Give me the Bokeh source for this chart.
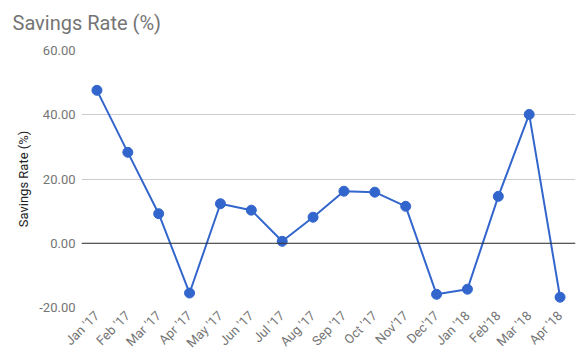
import math
from bokeh.plotting import figure
from bokeh.models import Span, Range1d, FixedTicker, CustomJSTickFormatter
from bokeh.embed import file_html
from bokeh.resources import INLINE

months = ["Jan '17", "Feb '17", "Mar '17", "Apr '17", "May '17", "Jun '17", "Jul '17",
          "Aug '17", "Sep '17", "Oct '17", "Nov'17", "Dec'17", "Jan '18", "Feb'18",
          "Mar '18", "Apr '18"]
savings_rate = [47.6, 28.3, 9.2, -15.5, 12.3, 10.3, 0.6, 8.1, 16.2, 15.9, 11.5,
                -15.9, -14.3, 14.6, 40.1, -16.8]
y_ticks = [-20, 0, 20, 40, 60]
title_text = "Savings Rate (%)"

FONT = "Roboto"
GRAY = "#757575"

p = figure(frame_width=494, frame_height=257, x_range=months, y_range=Range1d(-20, 60),
           output_backend="svg", toolbar_location=None,
           min_border_left=81, min_border_right=1, min_border_top=50, min_border_bottom=44)

p.title.text = title_text
p.title.text_font = FONT
p.title.text_font_size = "20px"
p.title.text_font_style = "normal"
p.title.text_color = GRAY
p.title.offset = -69
p.title.padding = dict(top=0, right=0, bottom=11, left=0)

p.outline_line_color = None
p.xgrid.grid_line_color = None
p.ygrid.grid_line_color = "#cccccc"
p.ygrid.grid_line_width = 1

p.yaxis.ticker = FixedTicker(ticks=y_ticks)
p.yaxis.formatter = CustomJSTickFormatter(code="return tick.toFixed(2);")
p.yaxis.axis_line_color = None
p.yaxis.major_tick_line_color = None
p.yaxis.minor_tick_line_color = None
p.yaxis.major_tick_out = 0
p.yaxis.major_tick_in = 0
p.yaxis.major_label_text_font = FONT
p.yaxis.major_label_text_font_size = "13px"
p.yaxis.major_label_text_color = GRAY
p.yaxis.major_label_standoff = 6
p.yaxis.axis_label = "Savings Rate (%)"
p.yaxis.axis_label_text_font = FONT
p.yaxis.axis_label_text_font_size = "13px"
p.yaxis.axis_label_text_font_style = "normal"
p.yaxis.axis_label_text_color = "#222222"
p.yaxis.axis_label_standoff = 5

p.xaxis.axis_line_color = None
p.xaxis.major_tick_line_color = None
p.xaxis.minor_tick_line_color = None
p.xaxis.major_tick_out = 0
p.xaxis.major_tick_in = 0
p.xaxis.major_label_orientation = math.pi / 4
p.xaxis.major_label_text_font = FONT
p.xaxis.major_label_text_font_size = "13px"
p.xaxis.major_label_text_color = GRAY
p.xaxis.major_label_standoff = 6

p.add_layout(Span(location=0, dimension="width", line_color="#333333", line_width=1))

p.line(months, savings_rate, line_color="#3366cc", line_width=2)
p.scatter(months, savings_rate, size=10, fill_color="#3366cc", line_color="#3366cc")

open("out.html", "w").write(file_html(p, INLINE))
